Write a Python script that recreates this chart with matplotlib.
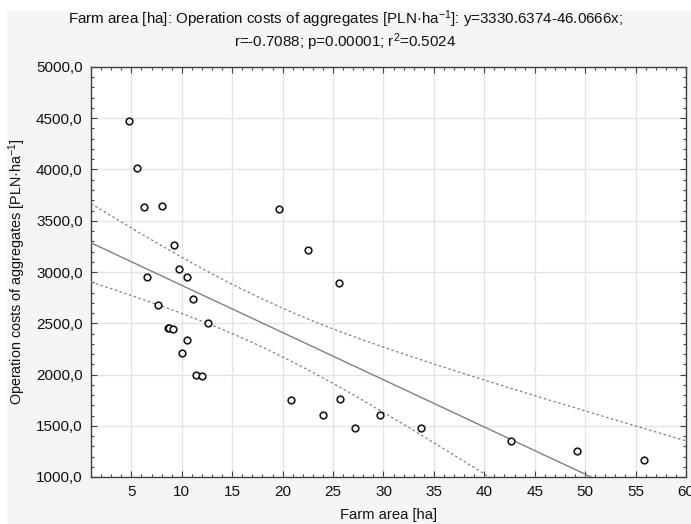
import numpy as np
import matplotlib
matplotlib.use("Agg")
import matplotlib.pyplot as plt
from matplotlib.ticker import MultipleLocator, FuncFormatter
from matplotlib.patches import Rectangle

plt.rcParams['font.family'] = ['Liberation Sans', 'DejaVu Sans']
plt.rcParams['mathtext.fontset'] = 'custom'
plt.rcParams['mathtext.rm'] = 'Liberation Sans'
plt.rcParams['mathtext.it'] = 'Liberation Sans:italic'
plt.rcParams['mathtext.bf'] = 'Liberation Sans:bold'

# Farm area [ha] and operation costs of aggregates [PLN/ha] per farm
farm_area = [4.8, 5.6, 6.3, 8.0, 9.2, 6.6, 9.7, 10.5, 11.1, 7.6,
             8.6, 8.7, 9.1, 12.6, 10.5, 10.0, 11.4, 12.0, 19.6, 22.5,
             25.6, 20.8, 25.7, 24.0, 27.2, 29.7, 33.7, 42.6, 49.2, 55.8]
op_costs = [4475, 4010, 3630, 3645, 3265, 2955, 3030, 2955, 2740, 2680,
            2450, 2455, 2440, 2500, 2340, 2205, 2000, 1990, 3610, 3215,
            2895, 1750, 1765, 1605, 1480, 1605, 1475, 1350, 1250, 1165]

# Fitted regression reported in the title
intercept = 3330.6374
slope = -46.0666
r_value = -0.7088
p_value = 0.00001
r_squared = 0.5024
t_crit = 2.0484  # Student t, 0.975, df = n - 2 = 28

x_ticks = [5, 10, 15, 20, 25, 30, 35, 40, 45, 50, 55, 60]

xa = np.asarray(farm_area, float)
ya = np.asarray(op_costs, float)
n = len(xa)
resid = ya - (intercept + slope * xa)
s = np.sqrt(np.sum(resid ** 2) / (n - 2))
xbar = xa.mean()
sxx = np.sum((xa - xbar) ** 2)

xs = np.linspace(1, 60, 400)
fit = intercept + slope * xs
half = t_crit * s * np.sqrt(1.0 / n + (xs - xbar) ** 2 / sxx)

fig = plt.figure(figsize=(6.91, 5.24), dpi=100, facecolor='white')
fig.patches.append(Rectangle((7 / 691, 0), 1, 1 - 11 / 524, transform=fig.transFigure,
                             facecolor='#f5f5f5', edgecolor='none', zorder=-10))
ax = fig.add_axes([91 / 691, 1 - 477 / 524, (686 - 91) / 691, (477 - 67) / 524])
ax.set_facecolor('white')

ax.plot(xs, fit, color='#808080', lw=1.0, zorder=3)
ax.plot(xs, fit + half, color='#808080', lw=0.9, ls=(0, (2, 2)), zorder=3)
ax.plot(xs, fit - half, color='#808080', lw=0.9, ls=(0, (2, 2)), zorder=3)
ax.plot(farm_area, op_costs, ls='none', marker='o', ms=4.8, mfc='white',
        mec='#1a1a1a', mew=1.2, zorder=4)

ax.set_xlim(1, 60)
ax.set_ylim(1000, 5000)
ax.set_xticks(x_ticks)
ax.xaxis.set_minor_locator(MultipleLocator(1))
ax.yaxis.set_major_locator(MultipleLocator(500))
ax.yaxis.set_minor_locator(MultipleLocator(100))
ax.yaxis.set_major_formatter(FuncFormatter(lambda v, p: f"{v:.1f}".replace('.', ',')))

ax.grid(True, which='major', color='#e4e4e4', lw=1.0, zorder=0)
ax.set_axisbelow(True)
ax.tick_params(which='both', direction='in', top=True, right=True,
               colors='#404040', labelcolor='#111111', labelsize=11)
ax.tick_params(which='major', length=4, width=0.8, pad=6)
ax.tick_params(which='minor', length=2.5, width=0.8)
for sp in ax.spines.values():
    sp.set_color('#404040')
    sp.set_linewidth(1.0)

ax.set_xlabel('Farm area [ha]', fontsize=10.6, color='#111111', labelpad=6)
ax.set_ylabel('Operation costs of aggregates [PLN·ha$^{-1}$]', fontsize=10.4,
              color='#111111', labelpad=6)

title = ('Farm area [ha]: Operation costs of aggregates [PLN·ha$^{-1}$]: '
         f'y={intercept:.4f}{slope:.4f}x;\n'
         f'r={r_value:.4f}; p={p_value:.5f}; r$^{{2}}$={r_squared:.4f}')
fig.text(0.5, 1 - 31 / 524, title, ha='center', va='center', fontsize=10.9,
         color='#111111', linespacing=1.1)

fig.savefig('out.png', dpi=100, facecolor=fig.get_facecolor())
